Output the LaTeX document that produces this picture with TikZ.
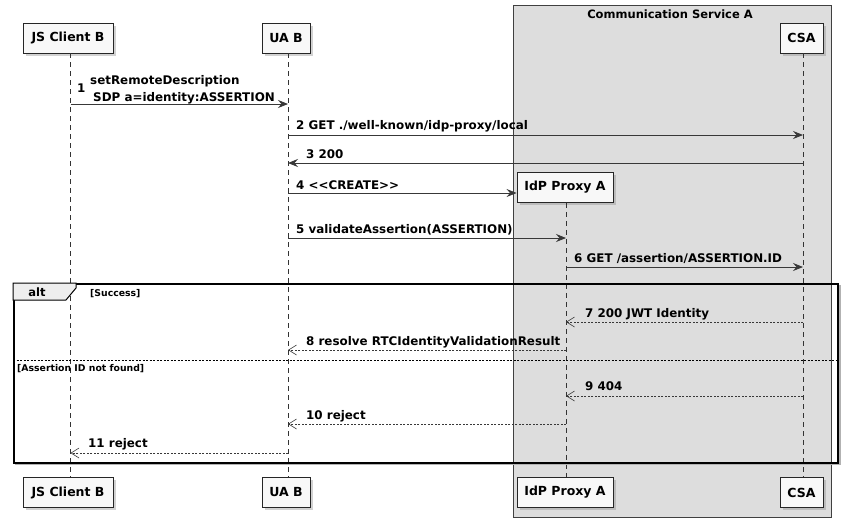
\documentclass[tikz,border=0pt]{standalone}
\usepackage{fontspec}
\setmainfont{DejaVu Sans}
\usetikzlibrary{arrows.meta,shadows}
\definecolor{grpfill}{RGB}{221,221,221}
\definecolor{boxfill}{RGB}{248,248,248}
\definecolor{arrowcol}{RGB}{56,56,56}
\definecolor{tabfill}{RGB}{238,238,238}
\tikzset{
  part/.style={draw=black!85, fill=boxfill, line width=0.9pt, rectangle, minimum height=30pt,
    inner sep=0pt, font=\bfseries\fontsize{12.5}{15}\selectfont,
    drop shadow={shadow xshift=2.5pt, shadow yshift=-2.5pt, opacity=0.35}},
  lifeline/.style={draw=black!80, dash pattern=on 5pt off 4pt, line width=0.6pt},
  msg/.style={draw=arrowcol, line width=0.8pt, -{Stealth[length=10pt,width=8pt,inset=3.5pt]}},
  ret/.style={draw=arrowcol, line width=0.6pt, dash pattern=on 2pt off 1.5pt,
    -{Straight Barb[length=8pt,width=10pt,line width=0.6pt]}},
  lbl/.style={font=\bfseries\fontsize{11.9}{14}\selectfont, inner sep=0pt, anchor=base west},
  guard/.style={font=\bfseries\fontsize{9.3}{11}\selectfont, inner sep=0pt, anchor=base west},
}
\begin{document}
\begin{tikzpicture}[x=1pt,y=-1pt]
\useasboundingbox (0,0) rectangle (847,528);
\fill[white] (0,0) rectangle (847,528);
% group box
\node (grp) [draw=black!75, fill=grpfill, line width=0.7pt, rectangle, anchor=north west,
  minimum width=318pt, minimum height=512pt, inner sep=0pt] at (513,5) {};
\node (grptitle) [font=\bfseries\fontsize{11.5}{14}\selectfont, inner sep=0pt, anchor=base] at (670,18) {Communication Service A};
% participants top
\node (js) [part, minimum width=90pt] at (68,38) {JS Client B};
\node (ua) [part, minimum width=48pt] at (286,38) {UA B};
\node (csa) [part, minimum width=43pt] at (801.5,38) {CSA};
\node (idp) [part, minimum width=96pt] at (565,187.5) {IdP Proxy A};
% participants bottom
\node (jsb) [part, minimum width=90pt] at (68,492.5) {JS Client B};
\node (uab) [part, minimum width=48pt] at (286,492.5) {UA B};
\node (idpb) [part, minimum width=96pt] at (565,492.5) {IdP Proxy A};
\node (csab) [part, minimum width=43pt] at (801.5,492.5) {CSA};
% lifeline x coordinates
\coordinate (xjs) at (70.5,0);
\coordinate (xua) at (288,0);
\coordinate (xidp) at (566,0);
\coordinate (xcsa) at (803,0);
% lifelines
\draw[lifeline] (xjs |- js.south) -- (xjs |- jsb.north);
\draw[lifeline] (xua |- ua.south) -- (xua |- uab.north);
\draw[lifeline] (xidp |- idp.south) -- (xidp |- idpb.north);
\draw[lifeline] (xcsa |- csa.south) -- (xcsa |- csab.north);
% message rows
\coordinate (y1) at (0,104);
\coordinate (y2) at (0,135);
\coordinate (y3) at (0,163);
\coordinate (y4) at (0,193);
\coordinate (y5) at (0,238);
\coordinate (y6) at (0,267);
\coordinate (y7) at (0,322);
\coordinate (y8) at (0,350);
\coordinate (y9) at (0,396);
\coordinate (y10) at (0,424);
\coordinate (y11) at (0,453);
% alt frame
\coordinate (altTL) at (13,283);
\draw[black!30, line width=2.5pt] (15,464) -- (839.5,464) -- (839.5,285);
\node (alt) [draw=black, line width=1.5pt, rectangle, anchor=north west, minimum width=824pt,
  minimum height=179pt, inner sep=0pt] at (altTL) {};
\draw[fill=tabfill, draw=black, line width=1pt] (13,283) -- (76,283) -- (76,288) -- (66,300) -- (13,300) -- cycle;
\node (alttxt) [font=\bfseries\fontsize{11.5}{14}\selectfont, inner sep=0pt, anchor=base] at (37,296) {alt};
\node (g1) [guard] at (90,296) {[Success]};
\draw[black, line width=0.6pt, dash pattern=on 2pt off 1.5pt] (alt.west |- 0,360) -- (alt.east |- 0,360);
\node (g2) [guard] at (17,371) {[Assertion ID not found]};
% messages
\draw[msg] (xjs |- y1) -- (xua |- y1);
\node (l1n) [lbl] at (77,92) {1};
\node (l1a) [lbl] at (90,84) {setRemoteDescription};
\node (l1b) [lbl] at (93,101) {SDP a=identity:ASSERTION};
\draw[msg] (xua |- y2) -- (xcsa |- y2);
\node (l2) [lbl] at (296,129) {2 GET ./well-known/idp-proxy/local};
\draw[msg] (xcsa |- y3) -- (xua |- y3);
\node (l3) [lbl] at (306,158) {3 200};
\draw[msg] (xua |- y4) -- (idp.west |- y4);
\node (l4) [lbl] at (296,189) {4 <{}<CREATE>{}>};
\draw[msg] (xua |- y5) -- (xidp |- y5);
\node (l5) [lbl] at (296,233) {5 validateAssertion(ASSERTION)};
\draw[msg] (xidp |- y6) -- (xcsa |- y6);
\node (l6) [lbl] at (574,262) {6 GET /assertion/ASSERTION.ID};
\draw[ret] (xcsa |- y7) -- (xidp |- y7);
\node (l7) [lbl] at (585,317) {7 200 JWT Identity};
\draw[ret] (xidp |- y8) -- (xua |- y8);
\node (l8) [lbl] at (306,345) {8 resolve RTCIdentityValidationResult};
\draw[ret] (xcsa |- y9) -- (xidp |- y9);
\node (l9) [lbl] at (585,390) {9 404};
\draw[ret] (xidp |- y10) -- (xua |- y10);
\node (l10) [lbl] at (306,419) {10 reject};
\draw[ret] (xua |- y11) -- (xjs |- y11);
\node (l11) [lbl] at (88,447) {11 reject};
\end{tikzpicture}
\end{document}
